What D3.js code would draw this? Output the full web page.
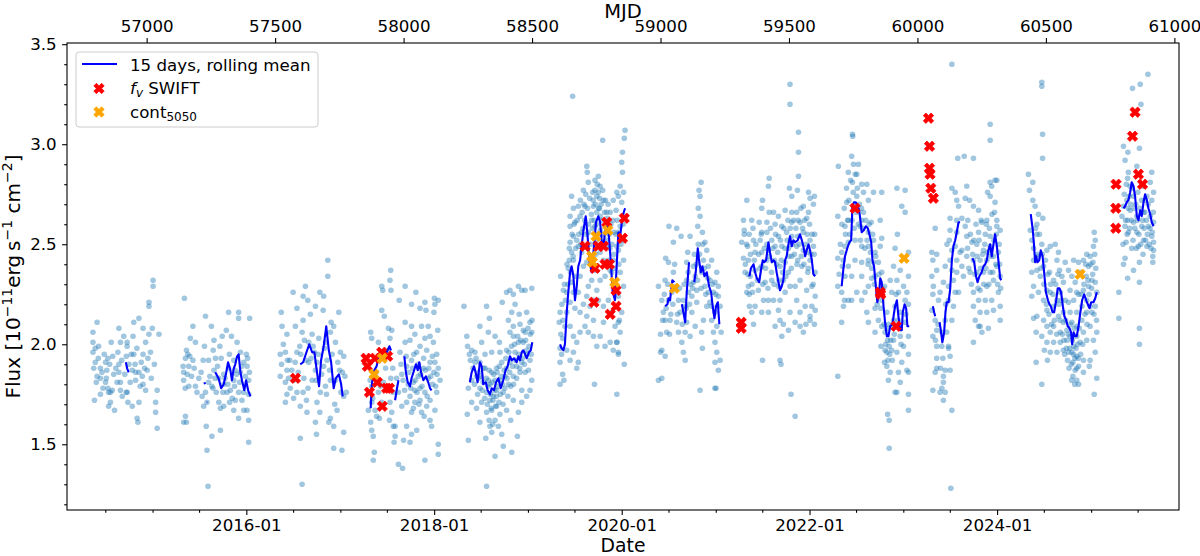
<!DOCTYPE html>
<html><head><meta charset="utf-8">
<script src="https://cdn.jsdelivr.net/npm/d3@7"></script>
<style>body{margin:0;background:#fff} svg{display:block} text{font-family:"DejaVu Sans",sans-serif;fill:#000}</style>
</head><body><svg id="c" width="1200" height="556"></svg>
<script>
// ---------------- DATA (MJD, flux in 1e-11 erg/s/cm2) ----------------
const season1 = [[56807,2.11],[56791,2.06],[56791,2.01],[56791,1.96],[56813,1.99],[56800,1.91],[56820,1.88],[56794,1.88],[56807,1.84],[56820,1.83],[56804,1.81],[56840,1.81],[56849,1.78],[56859,1.76],[56852,1.76],[56866,1.77],[56797,1.72],[56852,1.69],[56875,1.67],[56830,1.78],[56872,1.85],[56892,1.86],[56898,1.81],[56905,1.74],[56921,1.76],[56921,1.94],[56924,1.99],[56911,2.04],[56898,2.01],[56892,2.08],[56862,2.01],[56849,1.93],[56840,1.91],[56892,1.90],[56931,1.90],[56944,1.87],[56950,1.95],[56957,1.86],[56970,1.86],[56983,1.84],[57002,1.87],[56979,1.91],[56986,1.95],[57015,1.96],[56996,2.01],[56986,2.08],[57009,2.05],[57022,2.08],[56947,2.04],[56950,2.11],[56970,2.13],[57009,2.21],[57009,2.19],[57025,2.32],[57025,2.29],[57048,2.05],[56970,1.71],[56963,1.63],[56966,1.61],[57035,1.71],[57035,1.66],[57041,1.58],[57041,1.77],[56986,1.80],[56924,1.76],[56927,1.71],[56944,1.69],[56885,1.81],[56843,1.83],[56820,1.75],[56859,1.71],[56898,1.77],[56957,1.82],[56996,1.77],[56924,2.01],
 [56800,1.98],[56812,1.93],[56826,1.86],[56835,1.95],[56845,1.87],[56856,1.90],[56868,1.94],[56880,1.88],[56888,1.96],[56903,1.92],[56915,1.85],[56936,1.81],[56940,1.95],[56955,1.90],[56962,1.98],[56975,1.79],[56992,1.88],[57005,1.93],[57018,1.83],[57030,1.90]];
const season2 = [[57147,2.23],[57180,2.09],[57170,2.03],[57190,2.01],[57155,1.97],[57151,1.93],[57142,1.89],[57144,1.86],[57164,1.89],[57180,1.92],[57160,1.95],[57144,1.82],[57164,1.79],[57190,1.79],[57203,1.83],[57225,1.99],[57229,2.14],[57252,2.09],[57262,2.02],[57259,1.97],[57268,1.93],[57285,1.99],[57294,2.04],[57310,2.07],[57319,2.16],[57330,2.04],[57352,2.01],[57358,2.16],[57358,2.13],[57401,2.13],[57388,1.95],[57391,1.89],[57397,1.82],[57378,1.76],[57397,1.75],[57371,1.72],[57391,1.67],[57397,1.62],[57397,1.51],[57358,1.63],[57339,1.67],[57323,1.71],[57300,1.69],[57287,1.68],[57281,1.71],[57271,1.76],[57254,1.79],[57241,1.81],[57229,1.76],[57222,1.69],[57235,1.71],[57232,1.59],[57235,1.47],[57254,1.54],[57287,1.57],[57144,1.61],[57155,1.61],[57151,1.64],[57216,1.74],[57300,1.80],[57326,1.77],[57339,1.82],[57345,1.87],[57365,1.86],[57378,1.91],[57365,1.96],[57339,1.92],[57319,1.88],[57300,1.85],[57281,1.83],[57262,1.87],[57241,1.92],[57239,1.29],[57358,1.76],[57313,1.76],[57345,1.72],[57378,1.67],
 [57150,1.78],[57158,1.85],[57168,1.94],[57175,1.84],[57185,1.88],[57196,1.76],[57212,1.86],[57220,1.92],[57246,1.84],[57258,1.78],[57266,1.83],[57276,1.89],[57290,1.93],[57297,1.76],[57305,1.83],[57316,1.80],[57322,1.95],[57333,1.73],[57342,1.79],[57350,1.85],[57362,1.81],[57370,1.89],[57384,1.84],[57393,1.93],[57400,1.86]];
const season3 = [[57524,2.16],[57570,2.26],[57585,2.18],[57618,2.29],[57609,2.24],[57627,2.22],[57674,2.26],[57689,2.24],[57657,2.19],[57687,2.17],[57705,2.42],[57705,2.34],[57718,2.11],[57728,2.09],[57748,2.16],[57637,2.15],[57609,2.12],[57579,2.09],[57546,2.05],[57527,2.09],[57520,1.95],[57540,1.96],[57557,1.92],[57546,1.87],[57520,1.84],[57540,1.81],[57559,1.78],[57546,1.75],[57540,1.71],[57572,1.73],[57585,1.76],[57598,1.69],[57609,1.76],[57622,1.72],[57644,1.82],[57657,1.87],[57663,1.91],[57653,1.96],[57631,2.01],[57614,2.02],[57596,1.99],[57585,1.96],[57605,2.06],[57644,2.05],[57670,2.03],[57696,2.01],[57715,2.06],[57735,2.01],[57754,1.96],[57767,1.94],[57751,1.87],[57735,1.82],[57715,1.82],[57696,1.79],[57676,1.76],[57663,1.71],[57674,1.66],[57657,1.61],[57661,1.55],[57715,1.63],[57728,1.59],[57709,1.61],[57741,1.67],[57728,1.48],[57760,1.47],[57767,1.56],[57598,1.53],[57605,1.30],[57624,1.66],[57572,1.82],[57631,1.91],[57689,1.89],[57702,1.92],[57767,1.74],[57777,1.76],
 [57525,1.90],[57532,2.00],[57548,1.92],[57552,1.83],[57565,1.87],[57578,1.91],[57590,1.86],[57600,1.95],[57612,1.83],[57620,1.92],[57628,1.78],[57640,1.93],[57648,1.99],[57660,1.82],[57668,1.95],[57681,1.85],[57692,1.98],[57700,1.75],[57712,1.87],[57722,1.95],[57732,1.70],[57744,1.91],[57756,1.76],[57762,1.86],[57772,1.84]];
const season4 = [[57872,2.06],[57876,2.03],[57915,2.29],[57919,2.27],[57950,2.37],[57947,2.32],[57951,2.27],[57915,2.17],[57925,2.14],[57941,2.08],[57954,2.07],[57947,2.03],[57941,1.97],[57902,2.01],[57958,1.88],[57950,1.83],[57958,1.76],[57947,1.71],[57954,1.66],[57960,1.59],[57967,1.54],[57963,1.51],[57945,1.62],[57915,1.71],[57906,1.63],[57872,1.61],[57882,1.54],[57876,1.57],[57886,1.46],[57882,1.42],[57895,1.64],[57889,1.67],[57863,1.67],[57876,1.71],[57902,1.76],[57921,1.81],[57876,1.79],
 [57983,2.22],[58006,2.29],[58031,2.20],[58048,2.26],[58064,2.18],[58083,2.21],[58087,2.17],[58120,2.23],[58135,2.22],[58122,2.20],[58118,2.16],[58006,2.11],[58031,2.09],[58044,2.05],[58070,2.09],[58096,2.09],[58103,2.04],[58116,2.01],[58133,2.07],[58129,1.95],[58122,1.91],[58135,1.88],[58142,1.82],[58129,1.76],[58122,1.67],[58103,1.62],[58109,1.59],[58135,1.50],[58135,1.45],[58083,1.42],[58051,1.57],[58031,1.55],[58025,1.51],[58000,1.52],[57980,1.40],[57996,1.38],[57967,1.59],[58012,1.59],[58031,1.66],[58070,1.66],[58090,1.69],[58103,1.72],[58083,1.76],[58064,1.78],[58044,1.77],[58025,1.74],[58012,1.71],[57993,1.69],[57980,1.76],[57973,1.83],[57993,1.85],[58012,1.89],[58031,1.92],[58051,1.96],[58064,1.99],[58090,1.97],[58103,1.91],[58077,1.88],[58057,1.84],[58038,1.81],[58018,1.80],[58096,1.83],[58113,1.80],[58064,1.72],[58044,1.71],[57986,1.96],[58006,2.01],[58025,2.02],[58083,2.03],
 [57990,1.90],[57998,1.82],[58004,1.77],[58010,1.94],[58020,1.86],[58028,1.78],[58035,1.88],[58040,1.95],[58046,1.82],[58052,1.76],[58058,1.90],[58066,1.85],[58072,1.79],[58078,1.93],[58085,1.87],[58092,1.74],[58098,1.88],[58106,1.84],[58112,1.94],[58118,1.86],[58125,1.79],[58130,1.85],[58038,1.68],[58060,1.70],[58080,1.64],[57870,1.82],[57880,1.73],[57893,1.86],[57910,1.79],[57930,1.88]];
const season5 = [[58235,2.19],[58246,2.04],[58249,1.99],[58256,1.95],[58265,1.97],[58278,1.96],[58297,2.09],[58323,2.19],[58334,2.13],[58356,2.04],[58373,2.01],[58384,2.21],[58401,2.26],[58414,2.27],[58427,2.25],[58447,2.29],[58460,2.27],[58473,2.27],[58499,2.28],[58434,2.20],[58421,2.16],[58450,2.15],[58408,2.12],[58427,2.09],[58453,2.10],[58473,2.06],[58492,2.11],[58499,2.06],[58466,2.01],[58479,1.97],[58492,1.92],[58486,1.87],[58499,1.82],[58492,1.77],[58479,1.74],[58460,1.71],[58447,1.66],[58443,1.54],[58417,1.62],[58421,1.46],[58388,1.49],[58382,1.55],[58356,1.44],[58323,1.29],[58320,1.53],[58336,1.59],[58297,1.61],[58252,1.52],[58248,1.65],[58265,1.71],[58284,1.68],[58304,1.71],[58323,1.66],[58343,1.67],[58362,1.69],[58375,1.65],[58401,1.67],[58427,1.72],[58460,1.77],[58265,1.82],[58252,1.78],[58284,1.84],[58297,1.78],[58310,1.81],[58323,1.76],[58336,1.80],[58349,1.74],[58362,1.77],[58375,1.82],[58388,1.76],[58408,1.80],[58427,1.84],[58440,1.89],[58460,1.91],[58473,1.86],[58453,1.86],[58401,1.88],[58414,1.91],[58382,1.91],[58362,1.88],[58343,1.86],[58317,1.88],[58297,1.91],[58278,1.91],[58291,1.86],[58330,1.82],[58356,1.82],[58395,1.84],[58434,1.96],[58447,2.01],[58401,1.97],[58427,2.04],[58375,1.96],[58343,1.96],[58317,1.95],[58304,2.01],[58330,2.06],[58414,2.06],[58479,2.16],[58336,1.72],[58356,1.62],[58343,1.56],[58369,1.59],
 [58300,1.84],[58306,1.77],[58312,1.88],[58316,1.73],[58322,1.83],[58326,1.70],[58329,1.79],[58333,1.87],[58338,1.75],[58341,1.68],[58345,1.81],[58348,1.72],[58351,1.85],[58354,1.77],[58358,1.69],[58361,1.74],[58364,1.86],[58367,1.79],[58371,1.71],[58373,1.89],[58377,1.75],[58380,1.84],[58384,1.80],[58387,1.70],[58391,1.87],[58394,1.78],[58398,1.93],[58403,1.83],[58406,1.74],[58410,1.96],[58413,1.86],[58417,1.79],[58420,1.99],[58424,1.89],[58428,1.80],[58432,2.00],[58436,1.92],[58440,1.83],[58444,2.04],[58448,1.95],[58452,1.88],[58456,2.02],[58462,1.93],[58466,2.07],[58470,1.90],[58475,2.02],[58480,1.95],[58484,2.08],[58488,1.99],[58493,2.05],[58497,1.95],[58500,2.12],[58270,1.88],[58276,1.80],[58282,1.93],[58288,1.75],[58292,1.83],[58260,1.92],[58333,1.62],[58347,1.60]];
const season6 = [[58658,3.24],[58775,3.02],[58713,2.89],[58715,2.86],[58654,2.74],[58661,2.68],[58648,2.64],[58648,2.59],[58661,2.54],[58648,2.51],[58654,2.46],[58645,2.42],[58641,2.38],[58611,2.34],[58622,2.27],[58609,2.16],[58606,2.11],[58619,2.03],[58609,1.98],[58615,1.95],[58609,1.91],[58619,1.85],[58609,1.80],[58624,1.82],[58674,1.88],[58680,1.91],[58743,1.80],[58739,2.12],[58778,2.11],[58680,2.26],[58667,2.18],[58687,2.16],[58687,2.34],[58700,2.39],[58680,2.49],[58693,2.56],[58687,2.64],[58706,2.69],[58700,2.77],[58719,2.81],[58736,2.76],[58745,2.82],[58758,2.84],[58765,2.79],[58752,2.74],[58739,2.69],[58762,2.68],[58778,2.72],[58791,2.66],[58784,2.59],[58804,2.66],[58816,2.72],[58830,2.76],[58827,2.67],[58819,2.56],[58836,2.56],[58830,2.49],[58816,2.42],[58804,2.37],[58784,2.34],[58765,2.32],[58752,2.27],[58732,2.32],[58719,2.29],[58713,2.24],[58700,2.20],[58713,2.14],[58726,2.19],[58739,2.22],[58758,2.22],[58778,2.19],[58797,2.22],[58810,2.16],[58823,2.09],[58830,2.01],[58836,1.96],[58830,1.75],[58840,2.12],[58661,2.42],[58667,2.34],[58661,2.26],[58648,2.21],[58635,2.16],[58628,2.09],[58648,2.09],[58661,2.04],[58674,2.01],[58687,2.06],[58706,2.09],[58719,2.06],[58739,2.04],[58752,1.99],[58765,2.04],[58784,1.99],[58804,2.01],[58816,1.97],[58635,1.97],[58648,1.92],[58661,1.96],[58680,2.69],[58667,2.61],[58674,2.52],[58713,2.49],[58719,2.56],[58732,2.62],[58745,2.59],[58752,2.52],[58765,2.46],[58778,2.42],[58791,2.49],[58797,2.42],[58810,2.36],[58732,2.42],[58745,2.37],[58713,2.41],[58693,2.46],[58635,2.26],[58654,2.31],[58752,2.66],[58765,2.64],[58745,2.77],[58758,2.76],
 [58862,3.07],[58859,3.03],[58852,2.96],[58849,2.91],[58852,2.86],[58843,2.79],[58856,2.76],[58836,2.74],[58849,2.71],[58862,2.64],[58843,2.59],[58856,2.52],[58836,2.47],[58856,2.42],[58843,2.36],[58856,2.29],[58836,2.24],[58849,2.16],[58836,2.11],[58843,2.06],[58830,2.01],[58836,1.95],[58859,1.90],
 [58612,2.05],[58616,2.20],[58620,2.12],[58626,2.30],[58630,2.22],[58636,2.40],[58640,2.30],[58645,2.48],[58650,2.36],[58656,2.55],[58660,2.44],[58664,2.60],[58670,2.48],[58676,2.62],[58682,2.55],[58688,2.72],[58690,2.50],[58695,2.66],[58698,2.58],[58702,2.70],[58705,2.62],[58709,2.75],[58712,2.55],[58716,2.68],[58720,2.60],[58724,2.73],[58728,2.50],[58731,2.65],[58735,2.58],[58738,2.72],[58742,2.62],[58746,2.70],[58748,2.45],[58751,2.60],[58754,2.80],[58757,2.55],[58760,2.68],[58763,2.73],[58766,2.57],[58769,2.70],[58772,2.62],[58775,2.77],[58779,2.55],[58782,2.66],[58786,2.72],[58789,2.52],[58793,2.63],[58796,2.70],[58800,2.55],[58803,2.48],[58807,2.60],[58811,2.50],[58815,2.62],[58818,2.45],[58822,2.38],[58826,2.55],[58832,2.62],[58838,2.40],[58846,2.50],[58855,2.60]];
const season7 = [[59033,2.59],[59063,2.58],[59020,2.43],[59050,2.51],[59080,2.54],[59115,2.54],[59147,2.50],[59158,2.81],[59150,2.77],[59154,2.74],[59147,2.68],[59154,2.64],[59145,2.59],[59163,2.56],[59173,2.51],[59180,2.47],[59199,2.42],[59219,2.36],[59212,2.31],[59225,2.24],[59232,2.19],[59212,2.16],[59199,2.12],[59206,2.06],[59212,2.01],[59219,1.96],[59212,1.91],[59225,1.87],[59216,1.78],[59154,1.77],[59096,1.92],[59089,1.96],[59083,2.01],[59070,2.06],[59063,2.11],[59076,2.16],[59096,2.19],[59109,2.26],[59102,2.32],[59102,2.41],[59106,2.46],[59128,2.39],[59135,2.34],[59141,2.27],[59141,2.21],[59122,2.16],[59135,2.09],[59160,2.06],[59163,1.98],[59167,2.12],[59180,2.19],[59186,2.26],[59173,2.29],[59193,2.32],[59186,2.39],[59167,2.42],[59160,2.36],[58992,2.29],[59005,2.22],[59011,2.16],[59018,2.12],[59024,2.06],[59005,1.97],[59000,1.96],[59018,1.94],[59037,2.12],[59031,2.22],[59044,2.26],[59050,2.36],[59018,2.32],[59031,2.41],[59061,2.29],[59070,2.22],[59089,2.22],[58992,1.82],[59005,1.83],[59096,2.06],[59115,2.04],[59102,2.11],[59122,2.24],[59128,2.31],[59199,2.19],[59206,2.26],[59225,2.29],[59219,2.09],[59236,2.06],[59232,1.92],[59212,1.78],
 [59000,2.05],[59008,2.12],[59015,2.25],[59022,2.18],[59028,2.30],[59035,2.05],[59040,2.15],[59048,2.20],[59055,2.40],[59066,2.15],[59074,2.28],[59085,2.10],[59092,2.30],[59100,2.18],[59108,2.36],[59113,2.20],[59118,2.30],[59125,2.28],[59132,2.45],[59139,2.40],[59144,2.32],[59152,2.45],[59158,2.28],[59165,2.50],[59170,2.38],[59176,2.25],[59184,2.33],[59192,2.21],[59202,2.30],[59215,2.25]];
const season8 = [[59423,2.83],[59420,2.79],[59504,3.30],[59504,3.20],[59537,3.06],[59537,2.96],[59537,2.84],[59502,2.78],[59533,2.77],[59576,2.76],[59599,2.74],[59582,2.73],[59511,2.74],[59336,2.72],[59397,2.72],[59394,2.68],[59423,2.66],[59459,2.64],[59485,2.67],[59530,2.66],[59556,2.69],[59595,2.70],[59569,2.63],[59543,2.61],[59511,2.61],[59472,2.59],[59446,2.60],[59414,2.61],[59384,2.61],[59355,2.62],[59323,2.62],[59326,2.55],[59316,2.51],[59323,2.43],[59339,2.49],[59362,2.52],[59388,2.52],[59414,2.56],[59433,2.52],[59459,2.54],[59491,2.56],[59511,2.54],[59534,2.54],[59556,2.56],[59582,2.52],[59595,2.49],[59582,2.42],[59602,2.36],[59589,2.29],[59602,2.24],[59589,2.19],[59582,2.14],[59599,2.10],[59566,2.10],[59543,2.16],[59530,2.22],[59524,2.29],[59543,2.32],[59550,2.39],[59534,2.42],[59511,2.44],[59485,2.41],[59465,2.39],[59443,2.42],[59414,2.42],[59394,2.39],[59368,2.37],[59349,2.34],[59342,2.29],[59358,2.26],[59381,2.27],[59407,2.31],[59433,2.32],[59459,2.29],[59478,2.32],[59498,2.36],[59504,2.29],[59485,2.26],[59465,2.22],[59459,2.17],[59465,2.12],[59478,2.10],[59465,1.92],[59469,1.90],[59508,1.75],[59524,1.64],[59397,1.92],[59362,2.10],[59346,2.19],[59368,2.19],[59394,2.16],[59420,2.16],[59440,2.22],[59420,2.22],[59401,2.22],[59504,2.16],[59524,2.11],[59543,2.09],[59563,2.19],[59569,2.27],[59573,2.36],[59569,2.46],[59556,2.47],[59530,2.49],[59498,2.48],[59472,2.49],[59446,2.49],[59420,2.47],[59394,2.46],[59368,2.46],[59342,2.42],[59329,2.36],[59336,2.26],[59355,2.16],[59446,2.09],[59472,2.04],[59498,2.07],[59556,2.06],[59582,2.12],[59602,2.17],[59326,2.57],[59394,2.56],[59440,2.66],[59511,2.66],[59576,2.66],
 [59330,2.40],[59335,2.50],[59340,2.35],[59345,2.55],[59350,2.45],[59356,2.30],[59360,2.58],[59365,2.42],[59371,2.50],[59377,2.32],[59382,2.45],[59387,2.38],[59392,2.55],[59398,2.30],[59404,2.48],[59409,2.38],[59414,2.50],[59418,2.28],[59424,2.44],[59428,2.58],[59432,2.36],[59437,2.48],[59442,2.30],[59448,2.55],[59452,2.40],[59456,2.46],[59461,2.32],[59467,2.52],[59470,2.42],[59475,2.36],[59480,2.58],[59484,2.48],[59488,2.34],[59493,2.52],[59496,2.62],[59500,2.44],[59505,2.58],[59509,2.38],[59513,2.50],[59518,2.62],[59521,2.45],[59527,2.58],[59531,2.40],[59536,2.62],[59540,2.50],[59546,2.68],[59548,2.44],[59553,2.58],[59558,2.40],[59561,2.62],[59566,2.50],[59571,2.55],[59575,2.38],[59580,2.60],[59585,2.45],[59590,2.55],[59594,2.30],[59598,2.45],[59600,2.55],[59345,2.25]];
const season9 = [[59747,3.05],[59748,3.04],[59692,2.89],[59744,2.94],[59751,2.90],[59770,2.90],[59731,2.86],[59764,2.85],[59747,2.81],[59783,2.80],[59803,2.80],[59790,2.76],[59809,2.72],[59829,2.76],[59861,2.76],[59764,2.74],[59751,2.69],[59725,2.71],[59690,2.64],[59718,2.59],[59731,2.62],[59783,2.62],[59777,2.59],[59809,2.56],[59829,2.52],[59820,2.61],[59855,2.62],[59861,2.53],[59855,2.49],[59835,2.46],[59809,2.49],[59783,2.49],[59757,2.52],[59731,2.51],[59718,2.49],[59705,2.46],[59690,2.43],[59708,2.39],[59731,2.39],[59757,2.42],[59783,2.41],[59809,2.42],[59829,2.41],[59848,2.41],[59861,2.36],[59835,2.34],[59822,2.33],[59783,2.34],[59744,2.34],[59718,2.34],[59690,2.29],[59705,2.26],[59716,2.22],[59744,2.22],[59712,2.19],[59705,2.11],[59690,1.84],[59848,2.26],[59861,2.22],[59835,2.18],[59848,2.12],[59861,2.09],[59881,2.16],[59874,2.06],[59894,2.32],[59900,2.26],[59884,2.02],[59890,1.99],[59874,1.97],[59881,1.96],[59900,1.97],[59881,1.89],[59894,1.86],[59887,1.82],[59884,1.65],[59890,1.62],[59890,1.48],[59872,1.91],[59858,1.99],[59835,2.06],[59809,2.11],[59803,2.16],[59783,2.22],[59809,2.29],[59872,2.29],[59900,2.09],[59731,2.22],[59764,2.26],[59796,2.26],
 [59920,2.78],[59952,2.77],[59939,2.69],[59952,2.66],[59922,2.55],[59913,2.48],[59965,2.46],[59907,2.39],[59933,2.37],[59965,2.34],[59920,2.32],[59946,2.29],[59926,2.26],[59959,2.26],[59952,2.22],[59913,2.19],[59965,2.20],[59933,2.16],[59907,2.12],[59952,2.11],[59965,2.04],[59933,2.04],[59907,2.02],[59946,1.99],[59920,1.96],[59965,1.95],[59939,1.91],[59959,1.87],[59926,1.86],[59965,1.86],[59933,1.81],[59913,1.76],[59920,1.76],[59965,1.75],[59965,1.67],
 [59695,2.35],[59700,2.50],[59706,2.60],[59711,2.42],[59715,2.68],[59720,2.55],[59724,2.78],[59728,2.62],[59733,2.72],[59737,2.55],[59740,2.82],[59745,2.62],[59750,2.76],[59754,2.58],[59758,2.85],[59762,2.66],[59766,2.78],[59770,2.60],[59774,2.70],[59778,2.52],[59782,2.68],[59786,2.58],[59790,2.66],[59795,2.48],[59799,2.62],[59804,2.52],[59808,2.40],[59812,2.60],[59817,2.46],[59822,2.38],[59826,2.55],[59832,2.30],[59838,2.44],[59843,2.20],[59850,2.35],[59857,2.18],[59864,2.28],[59870,2.10],[59877,2.00],[59880,2.08],[59885,1.92],[59888,2.10],[59892,1.95],[59896,2.02],[59902,1.92],[59910,2.05],[59917,2.25],[59925,2.12],[59936,2.00],[59955,2.15]];
const season10 = [[60134,3.40],[60069,2.58],[60056,2.46],[60075,2.45],[60056,2.34],[60062,2.29],[60088,2.26],[60101,2.31],[60082,2.22],[60056,2.17],[60069,2.12],[60060,2.04],[60075,1.99],[60095,1.99],[60075,1.93],[60099,1.93],[60075,1.88],[60101,1.84],[60101,1.81],[60101,1.72],[60088,1.76],[60060,1.77],[60134,1.67],[60130,1.28],[60127,1.87],[60127,1.94],[60121,1.98],[60114,2.06],[60134,2.12],[60140,2.19],[60121,2.22],[60121,2.29],[60140,2.32],[60134,2.37],[60127,2.42],[60134,2.47],[60124,2.52],[60127,2.57],[60127,2.63],[60153,2.62],[60160,2.69],[60153,2.72],[60147,2.76],[60134,2.78],[60157,2.93],[60182,2.94],[60218,2.93],[60283,3.10],[60283,3.02],[60192,2.79],[60186,2.73],[60218,2.69],[60238,2.67],[60173,2.63],[60186,2.59],[60192,2.54],[60212,2.51],[60238,2.56],[60264,2.55],[60283,2.54],[60309,2.59],[60322,2.57],[60309,2.82],[60302,2.82],[60283,2.81],[60289,2.79],[60273,2.76],[60283,2.74],[60302,2.71],[60309,2.62],[60270,2.62],[60251,2.61],[60231,2.50],[60257,2.47],[60283,2.49],[60315,2.46],[60296,2.44],[60270,2.42],[60244,2.42],[60218,2.42],[60192,2.44],[60173,2.47],[60173,2.39],[60153,2.36],[60179,2.34],[60205,2.36],[60231,2.36],[60257,2.36],[60283,2.36],[60309,2.39],[60322,2.34],[60296,2.32],[60270,2.29],[60244,2.27],[60218,2.26],[60238,2.22],[60264,2.22],[60289,2.22],[60315,2.26],[60322,2.19],[60296,2.17],[60270,2.16],[60244,2.16],[60218,2.19],[60225,2.12],[60244,2.09],[60276,2.08],[60251,2.06],[60238,2.09],[60322,2.12],[60218,2.01],[60166,2.46],[60147,2.49],[60153,2.42],[60160,2.26],[60147,2.26],[60153,2.56],[60060,2.42],[60075,2.37],[60108,2.39],[60108,2.12],[60095,2.06],[60075,2.07],[60121,1.99],[60069,1.86],[60095,1.78],[60108,1.76],[60108,1.87],
 [60195,2.48],[60200,2.38],[60206,2.55],[60210,2.30],[60215,2.45],[60220,2.52],[60224,2.35],[60228,2.60],[60233,2.44],[60236,2.28],[60240,2.52],[60246,2.38],[60248,2.62],[60254,2.45],[60258,2.30],[60262,2.50],[60266,2.38],[60268,2.60],[60273,2.46],[60278,2.30],[60280,2.58],[60286,2.44],[60290,2.65],[60293,2.36],[60298,2.52],[60300,2.66],[60305,2.40],[60307,2.55],[60312,2.30],[60318,2.50],[60320,2.40],[60324,2.28],[60196,2.62],[60203,2.72],[60060,2.25],[60070,2.02],[60080,2.10],[60090,1.88],[60110,2.20],[60115,2.50]];
const season11 = [[60484,3.31],[60484,3.29],[60487,3.05],[60487,2.93],[60432,2.85],[60449,2.81],[60436,2.77],[60449,2.72],[60458,2.69],[60471,2.65],[60488,2.63],[60465,2.60],[60439,2.57],[60465,2.55],[60484,2.50],[60504,2.47],[60517,2.49],[60536,2.50],[60549,2.46],[60543,2.42],[60553,2.37],[60562,2.34],[60568,2.31],[60530,2.32],[60514,2.36],[60491,2.39],[60465,2.37],[60445,2.36],[60452,2.29],[60471,2.26],[60445,2.24],[60491,2.22],[60504,2.17],[60530,2.19],[60543,2.22],[60556,2.26],[60575,2.22],[60594,2.27],[60608,2.22],[60627,2.25],[60646,2.27],[60666,2.29],[60679,2.32],[60692,2.31],[60683,2.41],[60672,2.44],[60659,2.45],[60685,2.49],[60692,2.52],[60688,2.56],[60698,2.26],[60692,2.19],[60679,2.16],[60659,2.16],[60640,2.12],[60620,2.09],[60601,2.11],[60582,2.07],[60568,2.11],[60549,2.14],[60530,2.09],[60517,2.06],[60504,2.09],[60491,2.12],[60465,2.14],[60452,2.13],[60462,2.06],[60484,2.04],[60504,2.01],[60530,2.01],[60556,2.01],[60582,2.02],[60608,1.99],[60633,2.01],[60659,2.02],[60685,2.02],[60698,2.06],[60692,1.96],[60672,1.92],[60646,1.92],[60620,1.94],[60601,1.96],[60605,1.91],[60614,1.87],[60605,1.84],[60620,1.82],[60627,1.80],[60627,1.89],[60646,1.86],[60669,1.89],[60688,1.75],[60698,1.83],[60588,1.96],[60568,1.97],[60543,1.96],[60517,1.96],[60494,1.97],[60462,1.91],[60484,1.80],[60506,1.92],[60556,2.06],[60594,2.04],[60620,2.04],[60646,2.06],[60672,2.09],[60640,2.19],[60620,2.16],[60594,2.16],[60568,2.16],[60588,2.21],[60659,2.22],[60672,2.19],[60646,2.42],[60666,2.39],[60633,2.36],[60614,2.31],[60601,2.34],[60588,2.37],[60575,2.41],[60608,2.42],[60627,2.41],[60657,2.34],[60620,2.26],[60452,2.42],[60471,2.44],[60478,2.34],[60504,2.27],[60517,2.26],
 [60445,2.52],[60452,2.48],[60460,2.58],[60468,2.45],[60475,2.55],[60480,2.38],[60486,2.45],[60492,2.30],[60498,2.42],[60502,2.20],[60508,2.35],[60512,2.15],[60518,2.30],[60522,2.10],[60527,2.25],[60533,2.12],[60538,2.30],[60542,2.05],[60547,2.35],[60551,2.20],[60555,2.12],[60560,2.22],[60564,2.05],[60570,2.02],[60573,1.95],[60577,2.12],[60580,1.98],[60584,1.92],[60587,2.05],[60590,1.88],[60593,1.98],[60596,2.10],[60599,1.90],[60603,2.02],[60607,1.95],[60610,2.08],[60613,1.93],[60617,1.98],[60620,1.88],[60623,2.00],[60626,1.93],[60630,2.08],[60635,1.95],[60638,2.25],[60643,2.00],[60648,2.30],[60652,2.15],[60655,2.40],[60660,2.10],[60664,2.32],[60668,2.25],[60674,2.40],[60678,2.28],[60682,2.35],[60687,2.15],[60690,2.45],[60694,2.38],[60697,2.12],[60612,1.80],[60600,1.82]];
const season12 = [[60897,3.35],[60867,3.30],[60837,3.28],[60870,3.20],[60864,2.98],[60802,2.99],[60819,2.96],[60808,2.92],[60821,2.86],[60818,2.83],[60854,2.89],[60912,2.86],[60906,2.81],[60880,2.79],[60919,2.76],[60893,2.74],[60912,2.72],[60841,2.74],[60815,2.72],[60828,2.67],[60854,2.64],[60880,2.66],[60906,2.64],[60919,2.61],[60899,2.59],[60873,2.59],[60841,2.61],[60818,2.62],[60808,2.59],[60821,2.56],[60854,2.56],[60880,2.52],[60912,2.54],[60919,2.51],[60919,2.47],[60916,2.44],[60916,2.41],[60893,2.49],[60860,2.49],[60834,2.48],[60812,2.51],[60808,2.43],[60802,2.40],[60841,2.37],[60864,2.41],[60818,2.33],[60864,2.31],[60784,2.26],[60784,2.13],[60864,2.08],[60864,2.00],[60828,2.79],[60802,2.69],[60796,2.64],[60886,2.72],
 [60800,2.50],[60805,2.75],[60810,2.62],[60813,2.80],[60816,2.55],[60820,2.68],[60824,2.74],[60826,2.58],[60830,2.70],[60833,2.62],[60836,2.78],[60839,2.52],[60843,2.68],[60846,2.58],[60850,2.70],[60852,2.48],[60856,2.62],[60858,2.76],[60862,2.55],[60866,2.68],[60869,2.50],[60872,2.72],[60876,2.62],[60878,2.45],[60882,2.58],[60885,2.66],[60888,2.52],[60891,2.62],[60895,2.55],[60898,2.70],[60902,2.50],[60905,2.58],[60909,2.48],[60914,2.56],[60918,2.66]];

// 15-day rolling mean (null = gap between seasons)
const rollingMean = [
 [56919,1.91],[56924,1.88],[56930,1.86],null,
 [57225,1.81],[57227,1.80],null,[57234,1.71],[57236,1.71],null,
 [57267,1.86],[57280,1.83],[57290,1.78],[57300,1.80],[57310,1.86],[57317,1.91],[57326,1.87],[57332,1.82],[57339,1.88],[57345,1.90],[57352,1.94],[57358,1.95],[57365,1.86],[57371,1.82],[57380,1.77],[57387,1.82],[57395,1.77],[57404,1.74],null,
 [57598,1.90],[57609,1.91],[57622,1.96],[57633,2.00],[57644,1.96],[57653,1.96],[57663,1.86],[57671,1.79],[57679,1.92],[57689,1.99],[57699,2.09],[57709,1.97],[57718,1.91],[57728,1.78],[57736,1.83],[57748,1.85],[57757,1.80],[57763,1.74],null,
 [57872,1.68],[57874,1.74],[57876,1.79],[57882,1.86],[57895,1.89],[57908,1.96],[57921,1.97],[57934,1.96],[57945,1.99],[57951,1.97],null,
 [57967,1.72],[57973,1.77],[57980,1.82],null,
 [58003,1.94],[58009,1.86],[58016,1.81],[58025,1.79],[58031,1.83],[58041,1.87],[58048,1.90],[58055,1.87],[58061,1.91],[58068,1.86],[58077,1.82],[58087,1.84],[58096,1.81],[58103,1.78],[58109,1.77],null,
 [58258,1.81],[58265,1.86],[58274,1.89],[58282,1.85],[58288,1.81],[58297,1.91],[58304,1.89],[58310,1.80],[58320,1.81],[58327,1.77],[58336,1.75],[58343,1.78],[58352,1.77],[58360,1.81],[58369,1.83],[58378,1.78],[58388,1.82],[58397,1.87],[58405,1.89],[58414,1.94],[58421,1.92],[58430,1.93],[58440,1.91],[58447,1.94],[58453,1.92],[58460,1.96],[58466,1.97],[58473,1.95],[58479,1.93],[58488,1.96],[58495,1.97],[58501,2.01],null,
 [58609,2.00],[58615,1.98],[58622,1.97],[58628,2.00],[58635,2.16],[58641,2.26],[58648,2.36],[58654,2.39],[58661,2.34],[58667,2.22],[58674,2.29],[58680,2.39],[58687,2.42],[58693,2.49],[58700,2.57],[58709,2.64],[58715,2.56],[58723,2.42],[58732,2.36],[58741,2.49],[58749,2.61],[58758,2.64],[58765,2.61],[58771,2.52],[58778,2.49],[58784,2.56],[58791,2.59],[58798,2.56],[58806,2.42],[58814,2.26],[58823,2.22],[58830,2.41],[58836,2.56],[58843,2.54],[58852,2.64],[58862,2.68],null,
 [59018,2.19],[59027,2.20],[59031,2.23],[59037,2.22],[59046,2.32],[59054,2.31],null,
 [59083,2.20],[59089,2.16],[59096,2.11],[59102,2.26],[59111,2.41],null,
 [59131,2.31],[59137,2.36],[59145,2.48],[59150,2.42],[59157,2.36],[59163,2.39],[59171,2.34],[59180,2.36],[59189,2.29],[59197,2.26],[59203,2.19],[59210,2.13],[59216,2.19],[59223,2.21],[59229,2.10],null,
 [59346,2.34],[59352,2.38],[59362,2.40],[59368,2.36],[59375,2.33],[59384,2.31],[59391,2.37],[59398,2.42],[59403,2.41],[59411,2.42],[59420,2.51],[59426,2.46],[59433,2.41],[59440,2.42],[59446,2.41],[59452,2.36],[59459,2.31],[59465,2.27],[59472,2.29],[59478,2.32],[59485,2.42],[59491,2.44],[59498,2.50],[59504,2.54],[59511,2.49],[59517,2.52],[59524,2.51],[59534,2.52],[59543,2.55],[59550,2.52],[59556,2.49],[59563,2.44],[59569,2.47],[59576,2.50],[59582,2.47],[59589,2.42],[59595,2.35],[59602,2.34],null,
 [59705,2.29],[59712,2.38],[59718,2.44],[59727,2.48],[59735,2.51],[59742,2.52],[59747,2.69],[59753,2.71],[59760,2.71],[59767,2.69],[59773,2.67],[59778,2.62],[59783,2.56],[59791,2.57],[59799,2.59],[59807,2.58],[59813,2.55],[59820,2.51],[59825,2.42],[59831,2.39],[59838,2.29],[59844,2.21],[59851,2.26],[59855,2.33],[59861,2.31],[59868,2.19],[59874,2.11],[59881,2.04],[59887,2.04],[59894,2.09],[59903,2.10],[59907,2.14],[59913,2.19],[59920,2.22],[59926,2.14],[59933,2.07],[59939,2.07],[59943,2.16],[59950,2.20],[59956,2.18],[59961,2.09],[59968,2.09],null,
 [60060,2.19],[60065,2.16],[60069,2.14],null,
 [60086,2.11],[60091,2.07],[60097,2.01],[60104,2.06],[60109,2.16],[60114,2.21],[60121,2.21],[60127,2.27],[60134,2.42],[60140,2.49],[60147,2.52],[60153,2.56],[60160,2.61],[60166,2.61],null,
 [60214,2.43],[60221,2.41],[60228,2.34],[60234,2.31],[60241,2.34],[60250,2.36],[60257,2.39],[60264,2.40],[60270,2.42],[60276,2.47],[60283,2.50],[60289,2.44],[60296,2.50],[60302,2.55],[60309,2.49],[60315,2.42],[60322,2.33],[60326,2.32],null,
 [60441,2.65],[60449,2.57],[60454,2.49],[60458,2.41],[60462,2.44],[60467,2.41],[60474,2.42],[60480,2.47],[60487,2.44],[60493,2.36],[60500,2.26],[60508,2.22],[60514,2.20],[60519,2.19],[60526,2.16],[60532,2.16],[60540,2.22],[60546,2.28],[60553,2.28],[60559,2.26],[60566,2.19],[60572,2.14],[60579,2.12],[60585,2.09],[60592,2.08],[60598,2.06],[60602,2.00],[60608,2.06],[60614,2.04],[60620,2.04],[60627,2.09],[60633,2.15],[60641,2.22],[60649,2.25],[60657,2.22],[60663,2.20],[60670,2.18],[60676,2.21],[60685,2.21],[60692,2.23],[60698,2.26],null,
 [60802,2.68],[60808,2.69],[60815,2.71],[60821,2.72],[60828,2.76],[60834,2.81],[60841,2.79],[60847,2.74],[60854,2.64],[60860,2.62],[60867,2.67],[60873,2.64],[60880,2.71],[60886,2.75],[60893,2.72],[60899,2.68],[60906,2.65],[60912,2.61],[60919,2.59]
];

// SWIFT f_nu points and cont_5050 points
const swiftFv = [[57579,1.83],[57854,1.93],[57859,1.89],[57889,1.93],[57915,1.96],[57938,1.94],[57898,1.81],[57867,1.76],[57934,1.78],[57945,1.78],[57917,1.69],
 [58706,2.49],[58758,2.49],[58778,2.49],[58791,2.61],[58745,2.38],[58784,2.40],[58801,2.40],[58741,2.21],[58804,2.15],[58827,2.19],[58827,2.27],[58859,2.63],[58852,2.53],
 [59314,2.11],[59314,2.08],[59757,2.68],[59855,2.26],[59857,2.25],[59917,2.09],
 [60043,3.13],[60047,2.99],[60047,2.88],[60049,2.85],[60052,2.78],[60062,2.73],
 [60773,2.80],[60772,2.68],[60772,2.58],[60847,3.16],[60837,3.04],[60860,2.85],[60876,2.80]];
const cont5050 = [[57917,1.93],[57885,1.85],[58749,2.54],[58795,2.57],[58732,2.44],[58735,2.41],[58822,2.31],[59054,2.28],[59948,2.43],[60633,2.35]];

// tick labels
const mjdTicks = [57000,57500,58000,58500,59000,59500,60000,60500,61000];
const dateTicks = ["2016-01","2018-01","2020-01","2022-01","2024-01"];
const fluxTicks = [1.5,2.0,2.5,3.0,3.5];

// ---------------- DRAWING ----------------
const scatter = [].concat(season1,season2,season3,season4,season5,season6,season7,season8,season9,season10,season11,season12);
const L=67,R=1179,T=43,B=510;
const x = d3.scaleLinear().domain([56690,61018]).range([L,R]);
const y = d3.scaleLinear().domain([1.1715,3.506]).range([B,T]);
const svg = d3.select("#c");
const mjdOf = s => { const p=s.split("-").map(Number); return (Date.UTC(p[0],p[1]-1,1)-Date.UTC(1858,10,17))/864e5; };
const FS = 16.67;

svg.append("g").selectAll("circle").data(scatter).join("circle")
  .attr("cx",d=>x(d[0])).attr("cy",d=>y(d[1])).attr("r",2.8)
  .attr("fill","#1f77b4").attr("fill-opacity",0.42);

const line = d3.line().defined(d=>d!==null).x(d=>x(d[0])).y(d=>y(d[1]));
svg.append("path").attr("d",line(rollingMean)).attr("fill","none").attr("stroke","#0000ff").attr("stroke-width",2.1).attr("stroke-linejoin","round");

function xPath(s){
  const d=s/2,t=s/6, pts=[[-t,-d],[t,-d],[t,-t],[d,-t],[d,t],[t,t],[t,d],[-t,d],[-t,t],[-d,t],[-d,-t],[-t,-t]];
  const c=Math.SQRT1_2;
  return "M"+pts.map(p=>[(p[0]-p[1])*c,(p[0]+p[1])*c].map(v=>v.toFixed(2)).join(",")).join("L")+"Z";
}
const XP = xPath(11);
svg.append("g").selectAll("path").data(swiftFv).join("path")
  .attr("d",XP).attr("transform",d=>`translate(${x(d[0])},${y(d[1])})`).attr("fill","#ff0000").attr("stroke","#ff0000").attr("stroke-width",0.8);
svg.append("g").selectAll("path").data(cont5050).join("path")
  .attr("d",XP).attr("transform",d=>`translate(${x(d[0])},${y(d[1])})`).attr("fill","#ffa500").attr("stroke","#ffa500").attr("stroke-width",0.8);

function styleAxis(g){ g.select(".domain").remove(); g.selectAll("text").attr("font-size",FS).attr("font-family","DejaVu Sans").attr("fill","#000"); g.selectAll("line").attr("stroke","#000").attr("stroke-width",1.1); }
svg.append("g").attr("transform",`translate(0,${B})`)
  .call(d3.axisBottom(x).tickValues(dateTicks.map(mjdOf)).tickFormat((d,i)=>dateTicks[i]).tickSize(4.9).tickPadding(4.3)).call(styleAxis);
const minorDates=[]; for(let yr=2014; yr<=2025; yr++){ for(const mo of [1,7]){ const s=yr+"-"+(mo<10?"0":"")+mo; if(!dateTicks.includes(s)) minorDates.push(mjdOf(s)); } }
svg.append("g").attr("transform",`translate(0,${B})`)
  .call(d3.axisBottom(x).tickValues(minorDates.filter(v=>v>56690&&v<61018)).tickFormat("").tickSize(2.8)).call(styleAxis);
svg.append("g").attr("transform",`translate(0,${T})`)
  .call(d3.axisTop(x).tickValues(mjdTicks).tickFormat(d3.format("d")).tickSize(4.9).tickPadding(5.8)).call(styleAxis);
svg.append("g").attr("transform",`translate(${L},0)`)
  .call(d3.axisLeft(y).tickValues(fluxTicks).tickFormat(d3.format(".1f")).tickSize(4.9).tickPadding(5.4)).call(styleAxis);
const minorFlux = d3.range(12,36).map(v=>v/10).filter(v=>!fluxTicks.some(f=>Math.abs(f-v)<1e-6));
svg.append("g").attr("transform",`translate(${L},0)`)
  .call(d3.axisLeft(y).tickValues(minorFlux).tickFormat("").tickSize(2.8)).call(styleAxis);

svg.append("rect").attr("x",L).attr("y",T).attr("width",R-L).attr("height",B-T).attr("fill","none").attr("stroke","#000").attr("stroke-width",1.1);

svg.append("text").attr("x",(L+R)/2).attr("y",17.5).attr("text-anchor","middle").attr("font-size",19.5).text("MJD");
svg.append("text").attr("x",(L+R)/2).attr("y",551.5).attr("text-anchor","middle").attr("font-size",18.8).text("Date");
const yl = svg.append("text").attr("transform",`translate(20,${(T+B)/2}) rotate(-90)`).attr("text-anchor","middle").attr("font-size",20);
yl.append("tspan").text("Flux [10");
yl.append("tspan").attr("dy",-8).attr("font-size",14).text("\u221211");
yl.append("tspan").attr("dy",8).text("erg\u2009s");
yl.append("tspan").attr("dy",-8).attr("font-size",14).text("\u22121");
yl.append("tspan").attr("dy",8).text(" cm");
yl.append("tspan").attr("dy",-8).attr("font-size",14).text("\u22122");
yl.append("tspan").attr("dy",8).text("]");

const lg = svg.append("g");
lg.append("rect").attr("x",76).attr("y",52).attr("width",242).attr("height",75).attr("rx",3)
  .attr("fill","#fff").attr("fill-opacity",0.8).attr("stroke","#cccccc").attr("stroke-width",1);
lg.append("line").attr("x1",82).attr("x2",117).attr("y1",64).attr("y2",64).attr("stroke","#0000ff").attr("stroke-width",2.1);
lg.append("text").attr("x",130).attr("y",70.5).attr("font-size",FS).text("15 days, rolling mean");
lg.append("path").attr("d",XP).attr("transform","translate(99,88.5)").attr("fill","#ff0000").attr("stroke","#ff0000").attr("stroke-width",0.8);
const t2 = lg.append("text").attr("x",130).attr("y",94).attr("font-size",FS);
t2.append("tspan").attr("font-style","italic").text("f");
t2.append("tspan").attr("font-style","italic").attr("font-size",12).attr("dy",3).text("v");
t2.append("tspan").attr("dy",-3).text(" SWIFT");
lg.append("path").attr("d",XP).attr("transform","translate(99,112)").attr("fill","#ffa500").attr("stroke","#ffa500").attr("stroke-width",0.8);
const t3 = lg.append("text").attr("x",130).attr("y",117.5).attr("font-size",FS);
t3.append("tspan").text("cont");
t3.append("tspan").attr("font-size",12).attr("dy",3).text("5050");
</script></body></html>
